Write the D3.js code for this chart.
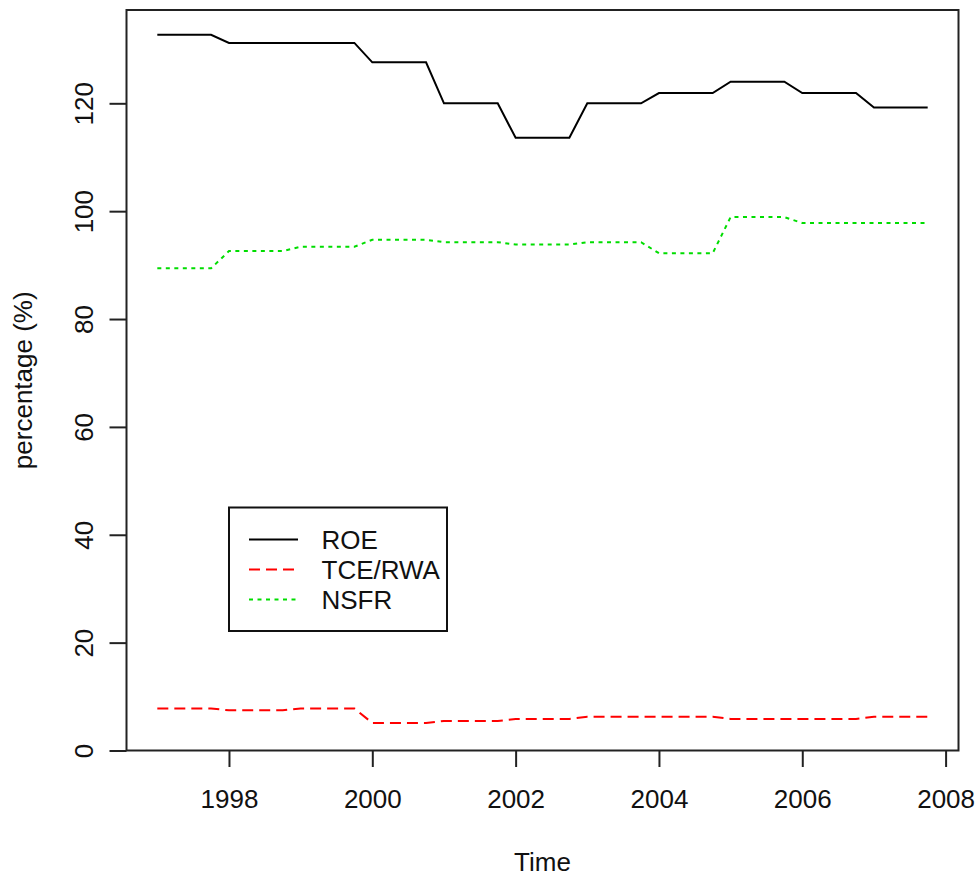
<!DOCTYPE html>
<html>
<head>
<meta charset="utf-8">
<script src="https://cdn.jsdelivr.net/npm/d3@7"></script>
<style>
  body { margin: 0; background: #fff; }
  text { font-family: "Liberation Sans", Arial, sans-serif; fill: #111; }
</style>
</head>
<body>
<svg id="chart" width="980" height="879"></svg>
<script>
// quarterly series, 1997 Q1 .. 2007 Q4
var startYear = 1997, freq = 4;

var roe = [
  132.7, 132.7, 132.7, 132.7,
  131.2, 131.2, 131.2, 131.2,
  131.2, 131.2, 131.2, 131.2,
  127.6, 127.6, 127.6, 127.6,
  120.0, 120.0, 120.0, 120.0,
  113.6, 113.6, 113.6, 113.6,
  120.0, 120.0, 120.0, 120.0,
  121.9, 121.9, 121.9, 121.9,
  124.0, 124.0, 124.0, 124.0,
  121.9, 121.9, 121.9, 121.9,
  119.2, 119.2, 119.2, 119.2
];
var tceRwa = [
  7.80, 7.80, 7.80, 7.80,
  7.45, 7.45, 7.45, 7.45,
  7.80, 7.80, 7.80, 7.80,
  5.10, 5.10, 5.10, 5.10,
  5.47, 5.47, 5.47, 5.47,
  5.84, 5.84, 5.84, 5.84,
  6.27, 6.27, 6.27, 6.27,
  6.27, 6.27, 6.27, 6.27,
  5.84, 5.84, 5.84, 5.84,
  5.84, 5.84, 5.84, 5.84,
  6.27, 6.27, 6.27, 6.27
];
var nsfr = [
  89.4, 89.4, 89.4, 89.4,
  92.6, 92.6, 92.6, 92.6,
  93.4, 93.4, 93.4, 93.4,
  94.7, 94.7, 94.7, 94.7,
  94.25, 94.25, 94.25, 94.25,
  93.8, 93.8, 93.8, 93.8,
  94.25, 94.25, 94.25, 94.25,
  92.2, 92.2, 92.2, 92.2,
  98.9, 98.9, 98.9, 98.9,
  97.8, 97.8, 97.8, 97.8,
  97.8, 97.8, 97.8, 97.8
];

var xTicks = [1998, 2000, 2002, 2004, 2006, 2008];
var yTicks = [0, 20, 40, 60, 80, 100, 120];
var seriesNames = ["ROE", "TCE/RWA", "NSFR"];

var svg = d3.select("#chart");
var fontSize = 26;

var box = {left: 126.5, right: 958.5, top: 10, bottom: 750.5};

// R style: pad the time range by 4% on each side
var tStart = startYear, tEnd = startYear + (roe.length - 1) / freq;
var pad = (tEnd - tStart) * 0.04;
var x = d3.scaleLinear()
  .domain([tStart - pad, tEnd + pad])
  .range([box.left, box.right]);
var y = d3.scaleLinear()
  .domain([0, 137.3])
  .range([box.bottom, box.top]);

var series = [
  {name: seriesNames[0], values: roe, color: "#000000", dash: null},
  {name: seriesNames[1], values: tceRwa, color: "#ff0000", dash: "11,6"},
  {name: seriesNames[2], values: nsfr, color: "#00dd00", dash: "4,4.5"}
];

var line = d3.line()
  .x(function(d, i) { return x(tStart + i / freq); })
  .y(function(d) { return y(d); });

series.forEach(function(s) {
  svg.append("path")
    .datum(s.values)
    .attr("fill", "none")
    .attr("stroke", s.color)
    .attr("stroke-width", 2)
    .attr("stroke-dasharray", s.dash)
    .attr("d", line);
});

// x axis
var xAxis = svg.append("g")
  .attr("transform", "translate(0," + box.bottom + ")")
  .call(d3.axisBottom(x).tickValues(xTicks).tickFormat(d3.format("d"))
    .tickSize(16.5).tickPadding(23));
xAxis.select(".domain").remove();
xAxis.selectAll("line").attr("stroke", "#222").attr("stroke-width", 2);
xAxis.selectAll("text")
  .attr("font-size", fontSize)
  .attr("font-family", "Liberation Sans, Arial, sans-serif")
  .attr("fill", "#111");

// y axis, labels turned like R's las = 0
var yAxis = svg.append("g")
  .attr("transform", "translate(" + box.left + ",0)")
  .call(d3.axisLeft(y).tickValues(yTicks).tickSize(17));
yAxis.select(".domain").remove();
yAxis.selectAll("line").attr("stroke", "#222").attr("stroke-width", 2);
yAxis.selectAll("text")
  .attr("x", 0)
  .attr("y", -(box.left - 92.5))
  .attr("dy", 0)
  .attr("transform", "rotate(-90)")
  .attr("text-anchor", "middle")
  .attr("font-size", fontSize)
  .attr("font-family", "Liberation Sans, Arial, sans-serif")
  .attr("fill", "#111");

// plot box
svg.append("rect")
  .attr("x", box.left)
  .attr("y", box.top)
  .attr("width", box.right - box.left)
  .attr("height", box.bottom - box.top)
  .attr("fill", "none")
  .attr("stroke", "#222")
  .attr("stroke-width", 2);

// axis titles
svg.append("text")
  .attr("x", (box.left + box.right) / 2)
  .attr("y", 871)
  .attr("text-anchor", "middle")
  .attr("font-size", fontSize)
  .text("Time");

svg.append("text")
  .attr("transform", "translate(32," + (box.top + box.bottom) / 2 + ") rotate(-90)")
  .attr("text-anchor", "middle")
  .attr("font-size", fontSize)
  .text("percentage (%)");

// legend
var legend = svg.append("g");
legend.append("rect")
  .attr("x", 229).attr("y", 507.5)
  .attr("width", 218).attr("height", 123.5)
  .attr("fill", "#fff")
  .attr("stroke", "#111")
  .attr("stroke-width", 2);

var item = legend.selectAll(".legend")
  .data(series)
  .enter().append("g")
  .attr("class", "legend")
  .attr("transform", function(d, i) { return "translate(0," + (539.5 + i * 30) + ")"; });

item.append("line")
  .attr("x1", 249).attr("x2", 298)
  .attr("stroke", function(d) { return d.color; })
  .attr("stroke-width", 2)
  .attr("stroke-dasharray", function(d) { return d.dash; });

item.append("text")
  .attr("x", 321.5)
  .attr("dy", "0.36em")
  .attr("font-size", fontSize)
  .text(function(d) { return d.name; });
</script>
</body>
</html>
